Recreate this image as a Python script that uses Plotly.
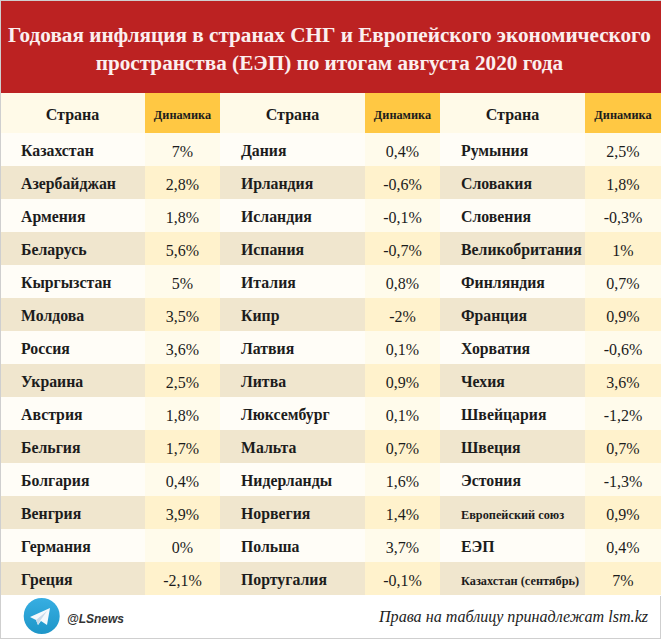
import plotly.graph_objects as go

TITLE = "Годовая инфляция в странах СНГ и Европейского экономического<br>пространства (ЕЭП) по итогам августа 2020 года"
HEADERS = ["Страна", "Динамика", "Страна", "Динамика", "Страна", "Динамика"]
countries_1 = ["Казахстан", "Азербайджан", "Армения", "Беларусь", "Кыргызстан", "Молдова", "Россия",
               "Украина", "Австрия", "Бельгия", "Болгария", "Венгрия", "Германия", "Греция"]
values_1 = ["7%", "2,8%", "1,8%", "5,6%", "5%", "3,5%", "3,6%", "2,5%", "1,8%", "1,7%", "0,4%", "3,9%", "0%", "-2,1%"]
countries_2 = ["Дания", "Ирландия", "Исландия", "Испания", "Италия", "Кипр", "Латвия",
               "Литва", "Люксембург", "Мальта", "Нидерланды", "Норвегия", "Польша", "Португалия"]
values_2 = ["0,4%", "-0,6%", "-0,1%", "-0,7%", "0,8%", "-2%", "0,1%", "0,9%", "0,1%", "0,7%", "1,6%", "1,4%", "3,7%", "-0,1%"]
countries_3 = ["Румыния", "Словакия", "Словения", "Великобритания", "Финляндия", "Франция", "Хорватия",
               "Чехия", "Швейцария", "Швеция", "Эстония", "Европейский союз", "ЕЭП", "Казахстан (сентябрь)"]
values_3 = ["2,5%", "1,8%", "-0,3%", "1%", "0,7%", "0,9%", "-0,6%", "3,6%", "-1,2%", "0,7%", "-1,3%", "0,9%", "0,4%", "7%"]
SMALL_NAMES = ["Европейский союз", "Казахстан (сентябрь)"]

W, H = 661, 639
SERIF = "Liberation Serif"
INK = "#1c1c1c"
X_EDGES = [0, 145, 220, 365, 440, 585, 661]
Y_HEADER = [93, 133]
ROW_H = 33
N_ROWS = len(countries_1)
Y_EDGES = Y_HEADER + [133 + ROW_H * (i + 1) for i in range(N_ROWS)]
NAME_X = [21, 241, 461]

# colour index per band: 0 header name, 1 header value, 2/3 odd row, 4/5 even row
z = [[0, 1] * 3]
for r in range(N_ROWS):
    z.append([2, 3] * 3 if r % 2 == 0 else [4, 5] * 3)
PALETTE = ["#FFFAE8", "#FFC843", "#FFFDF7", "#FFFBEB", "#F0E6CE", "#FFF2CC"]
scale = []
for i, c in enumerate(PALETTE):
    scale += [[i / 6, c], [(i + 1) / 6, c]]

fig = go.Figure()
fig.add_trace(go.Heatmap(x=X_EDGES, y=Y_EDGES, z=z, zmin=0, zmax=6, colorscale=scale,
                         showscale=False, hoverinfo="skip"))

row_mid = [(Y_EDGES[i + 1] + Y_EDGES[i + 2]) / 2 for i in range(N_ROWS)]
name_y = [m + 3 for m in row_mid]
value_y = [m + 3.5 for m in row_mid]
head_y = 115.5

for k, (cn, vals) in enumerate([(countries_1, values_1), (countries_2, values_2), (countries_3, values_3)]):
    nx = NAME_X[k]
    vx = (X_EDGES[2 * k + 1] + X_EDGES[2 * k + 2]) / 2
    hx = (X_EDGES[2 * k] + X_EDGES[2 * k + 1]) / 2
    fig.add_trace(go.Scatter(x=[nx] * N_ROWS, y=name_y, mode="text", text=["<b>%s</b>" % c for c in cn],
                             textposition="middle right", hoverinfo="skip",
                             textfont=dict(family=SERIF, color=INK,
                                           size=[12.3 if c in SMALL_NAMES else 15.8 for c in cn])))
    fig.add_trace(go.Scatter(x=[vx] * N_ROWS, y=value_y, mode="text", text=vals,
                             textposition="middle center", hoverinfo="skip",
                             textfont=dict(family=SERIF, color=INK, size=16)))
    fig.add_trace(go.Scatter(x=[hx, vx], y=[head_y, head_y], mode="text",
                             text=["<b>%s</b>" % HEADERS[2 * k], "<b>%s</b>" % HEADERS[2 * k + 1]],
                             textposition="middle center", hoverinfo="skip",
                             textfont=dict(family=SERIF, color=INK, size=[16, 12.3])))

# telegram badge
fig.add_trace(go.Scatter(x=[41.7], y=[616], mode="markers", hoverinfo="skip",
                         marker=dict(size=36, color="#37AEE2", line=dict(width=0),
                                     gradient=dict(type="vertical", color="#1E96C8"))))

LINE = dict(color="#CFCFCF", width=1)
shapes = [
    dict(type="rect", x0=0, x1=W, y0=1, y1=93, fillcolor="#BC2222", line=dict(width=0), layer="below"),
    dict(type="line", x0=0, x1=W, y0=638.5, y1=638.5, line=LINE),
    dict(type="line", x0=W - 0.5, x1=W - 0.5, y0=596, y1=H, line=LINE),
    dict(type="line", x0=0.5, x1=0.5, y0=0, y1=H, line=LINE),
    dict(type="line", x0=0, x1=W, y0=0.5, y1=0.5, line=LINE),
]
def px_path(pts):
    return "M " + " L ".join("%g,%g" % p for p in pts) + " Z"
shapes += [
    dict(type="path", path=px_path([(30, 617), (50, 608), (47, 625), (41, 621), (38, 625), (36, 620)]),
         fillcolor="#F4F9FC", line=dict(width=0)),
    dict(type="path", path=px_path([(36, 620), (47, 611), (40, 621), (38, 625)]),
         fillcolor="#C8DAEA", line=dict(width=0)),
]

annotations = [
    dict(text="<b>" + TITLE + "</b>", x=329.5, y=49, xanchor="center", yanchor="middle", showarrow=False,
         align="center", font=dict(family=SERIF, size=21.2, color="#FBEFEF")),
    dict(text="<b><i>@LSnews</i></b>", x=65, y=619, xanchor="left", yanchor="middle", showarrow=False,
         font=dict(family="Liberation Sans", size=12, color="#333333")),
    dict(text="<i>Права на таблицу принадлежат lsm.kz</i>", x=651, y=617, xanchor="right", yanchor="middle",
         showarrow=False, font=dict(family=SERIF, size=16.1, color=INK)),
]

fig.update_layout(width=W, height=H, margin=dict(l=0, r=0, t=0, b=0), paper_bgcolor="white", plot_bgcolor="white",
                  shapes=shapes, annotations=annotations, showlegend=False,
                  xaxis=dict(range=[0, W], visible=False, fixedrange=True),
                  yaxis=dict(range=[H, 0], visible=False, fixedrange=True))
fig.write_html("out.html", config=dict(displayModeBar=False),
               post_script="document.body.style.margin='0';document.body.style.overflow='hidden';")
